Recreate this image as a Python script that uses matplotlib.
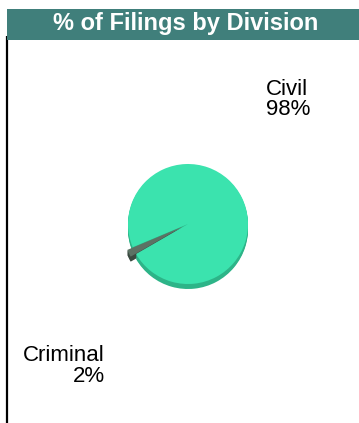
import matplotlib.pyplot as plt
from matplotlib.patches import Rectangle

# data
divisions = ["Civil", "Criminal"]
shares = [98, 2]
top_colors = ["#3be3ae", "#5c7264"]
side_colors = ["#2db488", "#3b4a41"]

W, H = 359, 423
plt.rcParams['font.family'] = ['Liberation Sans', 'DejaVu Sans']

fig = plt.figure(figsize=(W / 100, H / 100), dpi=100)
ax = fig.add_axes([0, 0, 1, 1])

# pie with a thin darker rim underneath for the 3d look
# (explode is in data units here, i.e. pixels)
cx, cy, r = 188, H - 224, 60
depth = 5
explode = [0, 6]
for k in range(depth, 0, -1):
    ax.pie(shares, colors=side_colors, radius=r, center=(cx, cy - k),
           startangle=210, explode=explode, frame=False,
           wedgeprops=dict(linewidth=0))
ax.pie(shares, colors=top_colors, radius=r, center=(cx, cy),
       startangle=210, explode=explode, frame=False,
       wedgeprops=dict(linewidth=0))

ax.set_xlim(0, W)
ax.set_ylim(0, H)
ax.set_aspect('auto')
ax.axis('off')

# slice labels (baseline of the last line)
ax.text(266, H - 115, f"{divisions[0]}\n{shares[0]}%", fontsize=16,
        ha='left', va='baseline', multialignment='left', linespacing=0.92)
ax.text(105, H - 382, f"{divisions[1]}\n{shares[1]}%", fontsize=16,
        ha='right', va='baseline', multialignment='right', linespacing=1.02)

# title bar and left border line
fig.patches.append(Rectangle((7 / W, 1 - 40 / H), 1 - 7 / W, 31 / H,
                             transform=fig.transFigure, facecolor="#407f7b",
                             edgecolor='none', zorder=2))
ax.plot([7, 7], [0, H - 36], color='black', linewidth=1.6,
        solid_capstyle='butt')
fig.text(186 / W, 1 - 30 / H, "% of Filings by Division", color='white',
         fontsize=17, fontweight='bold', ha='center', va='baseline', zorder=3)

fig.savefig("out.png", dpi=100)
